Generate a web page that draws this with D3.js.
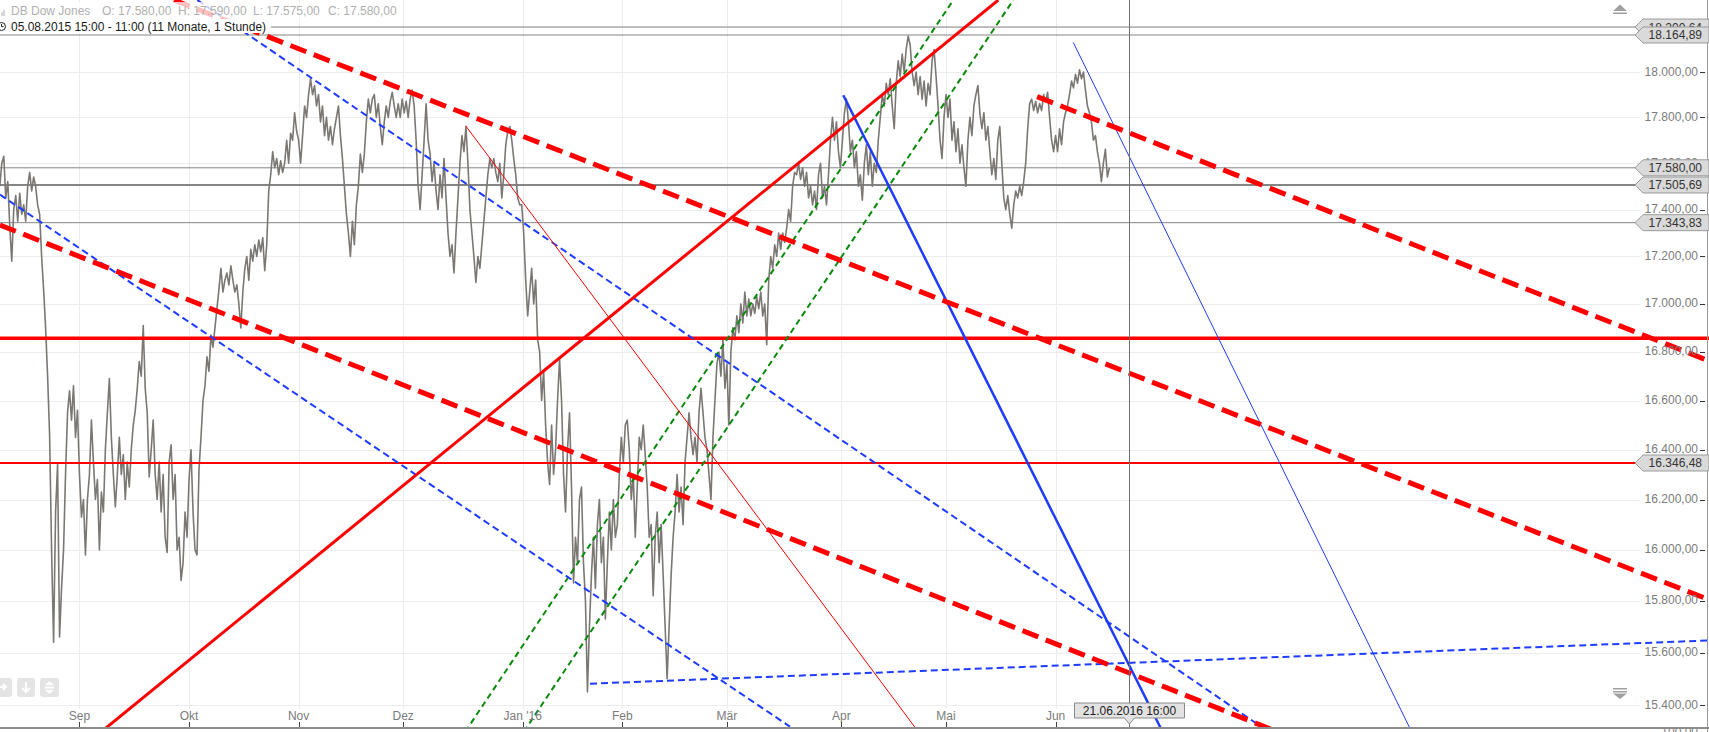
<!DOCTYPE html>
<html><head><meta charset="utf-8">
<script src="https://cdn.jsdelivr.net/npm/d3@7"></script>
<style>
html,body{margin:0;padding:0;background:#fff;overflow:hidden}
svg{display:block;font-family:"Liberation Sans",Arial,sans-serif}
</style></head><body>
<svg id="c" width="1709" height="732"></svg>
<script>
// ---------------- DATA ----------------
const title = "DB Dow Jones";
const ohlc = ["O: 17.580,00", "H: 17.590,00", "L: 17.575,00", "C: 17.580,00"];
const rangeText = "05.08.2015 15:00 - 11:00 (11 Monate, 1 Stunde)";
const cursorLabel = "21.06.2016 16:00";
const cursorDate = "2016-06-21";
const cursorHour = 16;

// price samples (DB Dow Jones), starting on this date, one sample every 0.4 trading days
const priceStart = "2015-08-10";
const sampleStep = 0.4;
const prices = [
17500,17600,17630,17450,17520,17330,17180,17400,17460,17350,17470,17380,17420,17350,17500,17560,17480,17540,17500,17420,
17380,17200,17060,16900,16700,16460,16000,15640,16150,16340,15660,15850,16000,16300,16550,16640,16520,16660,16450,16560,
16300,16130,16200,15980,16200,16300,16520,16350,16200,16280,16000,16230,16150,16400,16550,16690,16450,16300,16170,16300,
16450,16300,16380,16200,16350,16250,16400,16500,16560,16650,16760,16700,16910,16650,16550,16290,16400,16520,16300,16200,
16350,16150,16300,16050,15990,16350,16420,16200,16300,16000,16050,15880,15950,16150,16050,16280,16400,16150,16000,15980,
16320,16450,16600,16660,16780,16720,16870,16820,16900,16980,17060,17150,17050,17100,17130,17080,17160,17100,17050,17080,
17000,16900,17050,17150,17200,17100,17230,17180,17250,17200,17270,17220,17280,17140,17250,17480,17550,17650,17580,17620,
17550,17610,17560,17600,17700,17600,17730,17700,17820,17740,17700,17600,17720,17850,17800,17900,17970,17900,17940,17850,
17900,17780,17850,17720,17800,17700,17760,17680,17750,17800,17850,17720,17620,17500,17380,17300,17200,17350,17250,17420,
17500,17640,17560,17640,17780,17880,17820,17880,17900,17800,17860,17760,17680,17780,17850,17800,17870,17910,17850,17800,
17860,17800,17880,17820,17870,17800,17880,17920,17850,17700,17500,17400,17550,17700,17860,17700,17640,17520,17600,17480,
17400,17550,17450,17620,17450,17300,17200,17250,17130,17300,17450,17600,17720,17650,17760,17600,17400,17300,17200,17090,
17200,17150,17250,17350,17450,17550,17620,17580,17620,17560,17520,17600,17450,17550,17680,17740,17760,17700,17620,17550,
17450,17420,17420,17300,17100,16950,17050,17150,17000,17100,16850,16800,16600,16720,16500,16350,16260,16500,16300,16400,
16600,16770,16600,16300,16150,16400,16550,16250,15870,16050,15950,16200,16250,15950,15800,15450,15700,15900,16050,15850,
16100,16200,15950,16050,15730,15950,16150,16000,16200,16050,16100,16300,16450,16350,16500,16520,16400,16200,16300,16050,
16250,16450,16400,16500,16380,16250,16050,16100,15820,16050,16150,15950,16100,15900,15700,15500,15700,15900,16050,16150,
16300,16150,16250,16100,16350,16450,16550,16450,16380,16450,16350,16550,16650,16550,16450,16400,16300,16200,16450,16600,
16750,16800,16700,16850,16650,16750,16500,16800,16900,16850,16950,16880,17000,16920,17050,16950,17020,16950,17000,16960,
17030,16980,17050,16950,17000,16830,17100,17200,17150,17250,17200,17300,17230,17300,17260,17320,17400,17350,17500,17560,
17550,17600,17530,17580,17500,17560,17450,17500,17420,17480,17400,17550,17600,17450,17500,17420,17550,17700,17800,17700,
17780,17650,17580,17700,17820,17880,17780,17650,17700,17580,17650,17500,17550,17440,17600,17680,17550,17650,17500,17600,
17560,17700,17800,17900,17850,17950,17900,17970,17850,17750,17950,18050,17980,18080,18000,18100,18160,18120,18000,17940,
18000,17900,17980,17880,17960,17850,17950,17900,18050,18100,17980,17850,17700,17620,17800,17900,17800,17880,17700,17780,
17650,17750,17600,17680,17580,17500,17700,17800,17720,17850,17900,17940,17820,17750,17820,17700,17760,17650,17550,17620,
17530,17700,17760,17600,17450,17400,17460,17380,17320,17420,17480,17450,17500,17460,17520,17600,17750,17860,17880,17830,
17870,17820,17860,17830,17900,17870,17910,17800,17700,17650,17720,17650,17750,17680,17780,17820,17850,17900,17960,17930,
17990,17950,18010,17970,18000,17920,17850,17820,17780,17700,17720,17650,17600,17520,17600,17660,17540,17580
];

// price axis ticks and month ticks
const priceTicks = [15400,15600,15800,16000,16200,16400,16600,16800,17000,17200,17400,17600,17800,18000,18200];
const monthTicks = [
  {label:"Sep", date:"2015-09-01"}, {label:"Okt", date:"2015-10-01"}, {label:"Nov", date:"2015-11-02"},
  {label:"Dez", date:"2015-12-01"}, {label:"Jan '16", date:"2016-01-04"}, {label:"Feb", date:"2016-02-01"},
  {label:"Mär", date:"2016-03-01"}, {label:"Apr", date:"2016-04-01"}, {label:"Mai", date:"2016-05-02"},
  {label:"Jun", date:"2016-06-01"}
];

// horizontal levels
const grayLevels = [18200.64, 18164.89, 17580.00, 17343.83];
const grayStrongLevels = [17505.69];
const redStrongLevels = [16857];
const redThinLevels = [16346.48];
const taggedLevels = [18200.64, 18164.89, 17580.00, 17505.69, 17343.83, 16346.48];

// trend lines: [trading day from, price from, trading day to, price to]  (trading day 0 = 2015-09-01)
const redDashedLines = [
  [18.98, 18322, 327.21, 15805],
  [192.29, 17891, 327.21, 16763],
  [-15.96, 17334, 239.98, 15303]
];
const redSolidLines = [[4.40, 15299, 184.50, 18322]];
const redThinLines = [[77.55, 17763, 168.43, 15299]];
const blueSolidLines = [[153.37, 17897, 217.47, 15299]];
const blueThinLines = [[199.54, 18132, 267.49, 15299]];
const blueDashedLines = [
  [23.67, 18322, 236.65, 15326],
  [-15.96, 17464, 142.67, 15318],
  [102.51, 15481, 327.21, 15647]
];
const greenDashedLines = [
  [77.47, 15299, 175.46, 18322],
  [89.22, 15299, 187.51, 18322]
];

// ---------------- HELPERS ----------------
const origin = Date.UTC(2015, 8, 1);
function tradingDay(s) {
  const target = Date.parse(s + "T00:00:00Z");
  let n = 0, cur = new Date(origin);
  if (target >= origin) {
    while (cur.getTime() < target) { const wd = cur.getUTCDay(); if (wd !== 0 && wd !== 6) n++; cur.setUTCDate(cur.getUTCDate() + 1); }
  } else {
    while (cur.getTime() > target) { cur.setUTCDate(cur.getUTCDate() - 1); const wd = cur.getUTCDay(); if (wd !== 0 && wd !== 6) n--; }
  }
  return n;
}
const de = d3.formatLocale({decimal: ",", thousands: ".", grouping: [3], currency: ["", "€"]});
const fmt = de.format(",.2f");

// ---------------- LAYOUT ----------------
const W = 1709, H = 732, plotBottom = 727;
const svg = d3.select("#c");
const x = d3.scaleLinear().domain([tradingDay("2015-08-10"), tradingDay("2016-06-21")]).range([-0.2, 1125.3]);
const y = d3.scaleLog().domain([15400, 18000]).range([705, 72]);

svg.append("defs").append("clipPath").attr("id", "plot")
  .append("rect").attr("x", 0).attr("y", 0).attr("width", W).attr("height", plotBottom);

const plot = svg.append("g").attr("clip-path", "url(#plot)");

// grid
plot.append("g").selectAll("line").data(priceTicks).join("line")
  .attr("x1", 0).attr("x2", 1640).attr("y1", d => Math.round(y(d)) + 0.5).attr("y2", d => Math.round(y(d)) + 0.5)
  .attr("stroke", "#ececec").attr("stroke-width", 1);
plot.append("g").selectAll("line").data(monthTicks).join("line")
  .attr("x1", d => Math.round(x(tradingDay(d.date))) + 0.5).attr("x2", d => Math.round(x(tradingDay(d.date))) + 0.5)
  .attr("y1", 0).attr("y2", 709).attr("stroke", "#ececec").attr("stroke-width", 1);

// gray levels
plot.append("g").selectAll("line").data(grayLevels).join("line")
  .attr("x1", 0).attr("x2", W).attr("y1", d => y(d)).attr("y2", d => y(d))
  .attr("stroke", "#858585").attr("stroke-width", 1);
plot.append("g").selectAll("line").data(grayStrongLevels).join("line")
  .attr("x1", 0).attr("x2", W).attr("y1", d => y(d)).attr("y2", d => y(d))
  .attr("stroke", "#858585").attr("stroke-width", 2.2);

// price line
const t0 = tradingDay(priceStart);
plot.append("path").datum(prices)
  .attr("d", d3.line().x((d, i) => x(t0 + i * sampleStep)).y(d => y(d)))
  .attr("fill", "none").attr("stroke", "#7b7773").attr("stroke-width", 1.6).attr("stroke-linejoin", "round");

// red levels
plot.append("g").selectAll("line").data(redStrongLevels).join("line")
  .attr("x1", 0).attr("x2", W).attr("y1", d => y(d)).attr("y2", d => y(d))
  .attr("stroke", "#ff0000").attr("stroke-width", 3.5);
plot.append("g").selectAll("line").data(redThinLevels).join("line")
  .attr("x1", 0).attr("x2", W).attr("y1", d => y(d)).attr("y2", d => y(d))
  .attr("stroke", "#ff0000").attr("stroke-width", 1.8);

function drawTrend(data, color, width, dash) {
  plot.append("g").selectAll("line").data(data).join("line")
    .attr("x1", d => x(d[0])).attr("y1", d => y(d[1]))
    .attr("x2", d => x(d[2])).attr("y2", d => y(d[3]))
    .attr("stroke", color).attr("stroke-width", width)
    .attr("stroke-dasharray", dash || null).attr("fill", "none");
}
drawTrend(greenDashedLines, "#0a8a0a", 2, "6,4");
drawTrend(blueDashedLines, "#1e3cff", 2, "7,4");
drawTrend(redThinLines, "#ff0000", 1);
drawTrend(blueThinLines, "#1e3cff", 1);
drawTrend(blueSolidLines, "#1e3cff", 2.5);
drawTrend(redSolidLines, "#ff0000", 3);
drawTrend(redDashedLines, "#ff0000", 5, "17,8");

// crosshair
const cx = x(tradingDay(cursorDate) + cursorHour / 24);
svg.append("line").attr("x1", Math.round(cx) + 0.5).attr("x2", Math.round(cx) + 0.5).attr("y1", 0).attr("y2", plotBottom)
  .attr("stroke", "#6e6e6e").attr("stroke-width", 1);

// right axis labels
const ax = svg.append("g");
ax.selectAll("text").data(priceTicks).join("text")
  .attr("x", 1698).attr("y", d => y(d) + 3.5).attr("text-anchor", "end")
  .attr("font-size", 12).attr("fill", "#7b7b7b").text(d => fmt(d));
ax.selectAll("line").data(priceTicks).join("line")
  .attr("x1", 1700).attr("x2", 1705).attr("y1", d => Math.round(y(d)) + 0.5).attr("y2", d => Math.round(y(d)) + 0.5)
  .attr("stroke", "#333").attr("stroke-width", 1);
svg.append("text").attr("x", 1698).attr("y", 736).attr("text-anchor", "end").attr("font-size", 12).attr("fill", "#7b7b7b").text(fmt(100));
svg.append("line").attr("x1", 1707.5).attr("x2", 1707.5).attr("y1", 0).attr("y2", H).attr("stroke", "#9a9a9a");

// tags
const tags = svg.append("g").selectAll("g").data(taggedLevels).join("g")
  .attr("transform", d => `translate(0,${y(d)})`);
tags.append("path").attr("d", "M1635,0 L1643,-8 L1709,-8 L1709,8 L1643,8 Z")
  .attr("fill", "#dadada").attr("stroke", "#9a9a9a").attr("stroke-width", 1);
tags.append("text").attr("x", 1702).attr("y", 4.5).attr("text-anchor", "end")
  .attr("font-size", 12).attr("fill", "#333").text(d => fmt(d));

// scroll icons
svg.append("path").attr("d", "M1613,11 L1620,4.5 L1627,11 Z M1613,12.5 H1627 V14 H1613 Z").attr("fill", "#a0a0a0");
svg.append("path").attr("d", "M1613,688 H1627 V689.5 H1613 Z M1613,691 H1627 V692.5 H1613 Z M1613,693.5 L1627,693.5 L1620,699 Z").attr("fill", "#a0a0a0");

// bottom axis
const bx = svg.append("g");
bx.selectAll("text").data(monthTicks).join("text")
  .attr("x", d => x(tradingDay(d.date))).attr("y", 720).attr("text-anchor", "middle")
  .attr("font-size", 12).attr("fill", "#7b7b7b").text(d => d.label);
bx.selectAll("line").data(monthTicks).join("line")
  .attr("x1", d => Math.round(x(tradingDay(d.date))) + 0.5).attr("x2", d => Math.round(x(tradingDay(d.date))) + 0.5)
  .attr("y1", 722).attr("y2", 727).attr("stroke", "#444");
svg.append("line").attr("x1", 0).attr("x2", W).attr("y1", 728).attr("y2", 728).attr("stroke", "#8c8c8c").attr("stroke-width", 2);

// tooltip
const tip = svg.append("g").attr("transform", `translate(${Math.round(cx) + 0.5},0)`);
tip.append("path").attr("d", "M-55,703 H55 V718 H5 L0,724 L-5,718 H-55 Z").attr("fill", "#e2e2e2").attr("stroke", "#8a8a8a");
tip.append("text").attr("x", 0).attr("y", 715).attr("text-anchor", "middle").attr("font-size", 12).attr("fill", "#222").text(cursorLabel);

// nav buttons
const nav = svg.append("g");
nav.append("rect").attr("x", -6).attr("y", 678).attr("width", 18).attr("height", 19).attr("rx", 3).attr("fill", "#e4e4e4");
nav.append("rect").attr("x", 17).attr("y", 678).attr("width", 18).attr("height", 19).attr("rx", 3).attr("fill", "#e4e4e4");
nav.append("rect").attr("x", 40).attr("y", 678).attr("width", 19).attr("height", 19).attr("rx", 3).attr("fill", "#e4e4e4");
nav.append("path").attr("d", "M-2,687 H6 M3,684 L6,687 L3,690").attr("stroke", "#fff").attr("stroke-width", 2).attr("fill", "none");
nav.append("path").attr("d", "M26,682 V692 M22,688 L26,692 L30,688").attr("stroke", "#fff").attr("stroke-width", 2).attr("fill", "none");
nav.append("path").attr("d", "M45,685 L49.5,681 L54,685 Z M45,690 L49.5,694 L54,690 Z M45,686.5 H54 V688.5 H45 Z").attr("fill", "#fff");

// header
const hd = svg.append("g");
hd.append("rect").attr("x", 0).attr("y", 2).attr("width", 400).attr("height", 17).attr("fill", "#fff").attr("opacity", 0.75);
hd.append("rect").attr("x", 0).attr("y", 19).attr("width", 271).attr("height", 14).attr("fill", "#fff");
hd.append("rect").attr("x", 1.5).attr("y", 12).attr("width", 1).attr("height", 4).attr("fill", "#b0b0b0");
hd.append("rect").attr("x", 3.5).attr("y", 10).attr("width", 1).attr("height", 6).attr("fill", "#b0b0b0");
hd.append("text").attr("x", 11).attr("y", 15).attr("font-size", 12).attr("fill", "#b0b0b0").text(title);
const ohlcX = [102, 178, 253, 328];
hd.selectAll("text.o").data(ohlc).join("text").attr("class", "o")
  .attr("x", (d, i) => ohlcX[i]).attr("y", 15).attr("font-size", 12).attr("fill", "#b0b0b0").text(d => d);
hd.append("circle").attr("cx", 1.5).attr("cy", 26.5).attr("r", 4).attr("fill", "none").attr("stroke", "#222");
hd.append("path").attr("d", "M1.5,24 V26.5 H3.5").attr("stroke", "#222").attr("fill", "none");
hd.append("text").attr("x", 11).attr("y", 30.5).attr("font-size", 12).attr("fill", "#1a1a1a").text(rangeText);
</script>
</body></html>
